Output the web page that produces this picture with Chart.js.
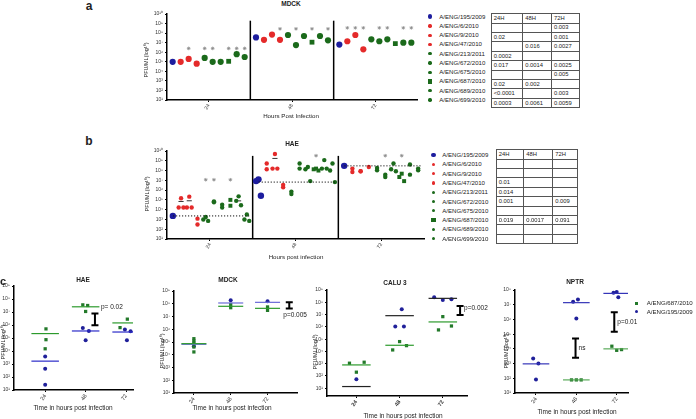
<!DOCTYPE html>
<html>
<head>
<meta charset="utf-8">
<script src="https://cdn.jsdelivr.net/npm/chart.js@4.4.1/dist/chart.umd.min.js"></script>
<style>
  body { margin: 0; width: 696px; height: 419px; position: relative; overflow: hidden; background: #fff;
         font-family: "Liberation Sans", Arial, sans-serif; color: #222; }
  canvas { position: absolute; }
  .lbl { position: absolute; white-space: nowrap; line-height: 1; }
  .dot { position: absolute; }
  table.p { position: absolute; border-collapse: collapse; table-layout: fixed; font-size: 5.8px; color: #222; }
  table.p td { border: 1px solid #555; padding: 0 0 0 2px; line-height: 7px; overflow: hidden; white-space: nowrap; }
  table.p tr:first-child td { text-align: center; padding: 0; }
</style>
</head>
<body>
<script>
const hours = ['24', '48', '72'];
const strains = ['A/ENG/195/2009', 'A/ENG/6/2010', 'A/ENG/9/2010', 'A/ENG/47/2010', 'A/ENG/213/2011',
  'A/ENG/672/2010', 'A/ENG/675/2010', 'A/ENG/687/2010', 'A/ENG/689/2010', 'A/ENG/699/2010'];

// panel a, MDCK: log10 PFU/ml per strain
const mdck24 = [5.0, 5.0, 5.3, 4.8, 5.4, 5.0, 5.0, 5.05, 5.8, 5.5];
const mdck48 = [7.55, 7.3, 7.85, 7.3, 7.8, 6.75, 7.7, 7.05, 7.7, 7.25];
const mdck72 = [6.8, 7.15, 7.8, 6.3, 7.35, 7.15, 7.35, 6.9, 7.0, 7.0];
const mdckStars = [[2, 4, 5, 7, 8, 9], [3, 5, 7, 9], [1, 2, 3, 5, 6, 8, 9]];
const mdckStarLevel = [6.4, 8.45, 8.55];
const mdckP24 = ['', '0.02', '', '0.0002', '0.017', '', '0.02', '<0.0001', '0.0003'];
const mdckP48 = ['', '', '0.016', '', '0.0014', '', '0.002', '', '0.0061'];
const mdckP72 = ['0.003', '0.001', '0.0027', '', '0.0025', '0.005', '', '0.003', '0.0059'];

// panel b, HAE: replicate values per strain
const hae24 = [[3.36], [5.16, 4.22, 4.22], [5.33, 4.22, 4.22], [3.08, 2.49], [3.25, 3.0, 2.85],
  [4.85, 4.75], [4.5, 4.22], [5.0, 4.4], [5.36, 4.9, 4.45], [3.5, 3.0, 2.85]];
const hae48 = [[7.1, 6.92, 5.43], [8.72, 8.13], [9.69, 8.2, 8.2], [6.54, 6.3], [5.85, 5.6],
  [8.72, 8.2], [8.37, 8.13, 6.92], [8.2, 8.13, 8.0], [9.07, 8.2, 8.2], [8.72, 8.0, 6.82]];
const hae72 = [[8.48], [8.2, 7.85], [7.93, 7.93], [8.37], [8.27, 8.03],
  [7.58, 7.34], [8.72, 8.13, 7.93], [7.68, 7.34, 6.92], [8.62, 7.58], [8.2, 8.03]];
const haeBar24 = [null, 4.84, 4.91, null, null, null, null, null, 4.9, null];
const haeBar48 = [null, null, 9.24, null, null, null, null, null, null, null];
const haeBar72 = [null, null, null, null, null, null, null, null, null, null];
const haeBlueMean = [3.36, 6.82, 8.48];
const haeStars = [[4, 5, 7], [7], [5, 7]];
const haeStarLevel = [7.06, 9.52, 9.52];
const haeP24 = ['', '', '0.01', '0.014', '0.001', '', '0.019', '', ''];
const haeP48 = ['', '', '', '', '', '', '0.0017', '', ''];
const haeP72 = ['', '', '', '', '0.009', '', '0.091', '', ''];

// panel c: A/ENG/687/2010 (green) vs A/ENG/195/2009 (blue)
const cHaeGreen = [[5.7, 4.87, 4.17], [7.55, 7.5, 7.04], [6.45, 5.8, 5.72]];
const cHaeBlue = [[3.58, 2.63, 1.41], [5.77, 5.54, 4.82], [5.65, 5.52, 4.82]];
const cHaeGreenMean = [5.34, 7.4, 6.16];
const cHaeBlueMean = [3.22, 5.54, 5.46];

const cMdckGreen = [[5.26, 5.08, 4.92, 4.61, 4.22], [7.95, 7.69], [7.75, 7.48]];
const cMdckBlue = [[4.66], [8.27], [8.2]];
const cMdckGreenMean = [4.87, 7.8, 7.64];
const cMdckBlueMean = [4.82, 8.06, 8.11];

const cCaluGreen = [[3.04, 3.12, 2.31], [4.8, 4.47, 4.12], [6.83, 6.07, 5.75]];
const cCaluBlue = [[1.74], [7.43, 6.02, 6.02], [8.4, 8.19, 8.24]];
const cCaluGreenMean = [2.9, 4.5, 6.4];
const cCaluBlueMean = [1.14, 6.91, 8.32];

const cNptrGreen = [[], [1.89, 1.89, 1.89], [4.18, 3.9, 3.95]];
const cNptrBlue = [[3.34, 3.0, 1.91], [7.2, 7.36, 6.07], [7.82, 7.86, 7.5]];
const cNptrGreenMean = [null, 1.89, 4.0];
const cNptrBlueMean = [2.98, 7.14, 7.77];

const brHae = [{ x: 1.23, lo: 5.98, hi: 6.88, text: 'p= 0.02' }];
const brMdck = [{ x: 2.59, lo: 7.62, hi: 8.11, text: 'p=0.005' }];
const brCalu = [{ x: 2.4, lo: 6.97, hi: 7.7, text: 'p=0.002' }];
const brNptr = [{ x: 0.98, lo: 3.39, hi: 4.71, text: 'ns' }, { x: 1.94, lo: 5.16, hi: 6.48, text: 'p=0.01' }];

// ---- styles ----
const BLUE = '#1d1d9e', RED = '#e42a2a', GREEN = '#1b6a1b';
const CGREEN = '#23792a', CBLUE = '#20209a';
const strainColor = [BLUE, RED, RED, RED, GREEN, GREEN, GREEN, GREEN, GREEN, GREEN];
const FONT = '"Liberation Sans", Arial, sans-serif';
const sup = n => String(n).split('').map(d => '⁰¹²³⁴⁵⁶⁷⁸⁹'[+d]).join('');
const pt = (x, v) => ({ x, y: Math.pow(10, v) });

function seg(x0, x1, v, color, w, dash) {
  return { type: 'line', data: [pt(x0, v), pt(x1, v)], borderColor: color, borderWidth: w,
    borderDash: dash || [], pointRadius: 0, showLine: true, fill: false };
}
function vline(x, v0, v1) {
  return { type: 'line', data: [pt(x, v0), pt(x, v1)], borderColor: '#000', borderWidth: 1.5,
    pointRadius: 0, showLine: true, fill: false };
}

const bracketPlugin = {
  id: 'brackets',
  afterDatasetsDraw(chart, args, opts) {
    const { ctx, scales: { x, y } } = chart;
    (opts.items || []).forEach(b => {
      const px = x.getPixelForValue(b.x);
      const p1 = y.getPixelForValue(Math.pow(10, b.lo)), p2 = y.getPixelForValue(Math.pow(10, b.hi));
      ctx.save();
      ctx.strokeStyle = '#000'; ctx.lineWidth = 2;
      ctx.beginPath();
      ctx.moveTo(px, p1); ctx.lineTo(px, p2);
      ctx.moveTo(px - 3.5, p1); ctx.lineTo(px + 3.5, p1);
      ctx.moveTo(px - 3.5, p2); ctx.lineTo(px + 3.5, p2);
      ctx.stroke();
      ctx.font = (opts.size || 6.5) + 'px ' + FONT;
      ctx.fillStyle = '#222'; ctx.textBaseline = 'middle';
      const dx = opts.dx !== undefined ? opts.dx : 5, dy = opts.dy || 0;
      ctx.fillText(b.text, px + dx, (p1 + p2) / 2 + dy);
      ctx.restore();
    });
  }
};

function panel(box, yLo, yHi, xMin, xMax, datasets, o) {
  const yw = 30, xh = 24, ptop = 6, pr = o.pr || 6;
  const L = Math.round(box.L), R = Math.round(box.R), T = Math.round(box.T), B = Math.round(box.B);
  const cv = document.createElement('canvas');
  cv.width = R - L + yw + pr; cv.height = B - T + ptop + xh;
  cv.style.left = (L - yw) + 'px'; cv.style.top = (T - ptop) + 'px';
  document.body.appendChild(cv);
  const pows = [];
  for (let p = yLo; p <= yHi; p++) pows.push(p);
  const grid = { drawOnChartArea: false, color: '#000', tickLength: 2, lineWidth: 1 };
  const border = { color: '#000', width: 1.5 };
  const yMin = o.yMin !== undefined ? o.yMin : yLo;
  return new Chart(cv, {
    type: 'scatter',
    data: { datasets },
    options: {
      responsive: false, animation: false, devicePixelRatio: 1,
      layout: { padding: { top: ptop, right: pr, left: 0, bottom: 0 } },
      plugins: { legend: { display: false }, tooltip: { enabled: false },
        brackets: { items: o.brackets || [], dx: o.bdx, dy: o.bdy } },
      scales: {
        x: { type: 'linear', min: xMin, max: xMax, grid, border,
          afterFit: s => { s.height = xh; },
          afterBuildTicks: s => { s.ticks = [0, 1, 2].map(v => ({ value: v })); },
          ticks: { callback: v => hours[v], color: '#333', autoSkip: false, padding: 1,
            minRotation: o.rot || 60, maxRotation: o.rot || 60,
            font: { family: FONT, size: o.xfs || 5, weight: o.xbold ? 'bold' : 'normal' } } },
        y: { type: 'logarithmic', min: Math.pow(10, yMin), max: Math.pow(10, yHi), grid, border,
          afterFit: s => { s.width = yw; },
          afterBuildTicks: s => { s.ticks = pows.map(p => ({ value: Math.pow(10, p) })); },
          ticks: { callback: v => '10' + sup(Math.round(Math.log10(v))), color: '#333', autoSkip: false,
            padding: 2, font: { family: FONT, size: o.yfs || 5 } } }
      }
    },
    plugins: [bracketPlugin]
  });
}

function text(str, x, y, size, o) {
  o = o || {};
  const d = document.createElement('div');
  d.className = 'lbl';
  d.textContent = str;
  let tf = o.left ? 'translate(0,-50%)' : 'translate(-50%,-50%)';
  if (o.rot) tf += ' rotate(-90deg)';
  d.style.left = x + 'px'; d.style.top = y + 'px'; d.style.fontSize = size + 'px';
  d.style.fontWeight = o.bold ? 'bold' : 'normal';
  d.style.transform = tf;
  if (o.color) d.style.color = o.color;
  document.body.appendChild(d);
}

function dot(x, y, sz, color, square) {
  const d = document.createElement('div');
  d.className = 'dot';
  d.style.cssText = `left:${x - sz / 2}px;top:${y - sz / 2}px;width:${sz}px;height:${sz}px;` +
    `background:${color};border-radius:${square ? 0 : 50}%`;
  document.body.appendChild(d);
}

function legend(dx, tx, y0, step) {
  strains.forEach((s, i) => {
    const y = y0 + i * step;
    dot(dx, y, i === 0 || i === 7 ? 4.5 : 3.3, strainColor[i], i === 7);
    text(s, tx, y, 6.1, { left: true });
  });
}

function pTable(x, y, colW, rowH, p24, p48, p72) {
  const tb = document.createElement('table');
  tb.className = 'p';
  tb.style.left = x + 'px'; tb.style.top = y + 'px';
  tb.style.width = colW.reduce((a, b) => a + b, 0) + 'px';
  const cg = document.createElement('colgroup');
  colW.forEach(w => { const c = document.createElement('col'); c.style.width = w + 'px'; cg.appendChild(c); });
  tb.appendChild(cg);
  const rows = [['24H', '48H', '72H']].concat(p24.map((v, i) => [v, p48[i], p72[i]]));
  rows.forEach(r => {
    const tr = document.createElement('tr');
    tr.style.height = rowH + 'px';
    r.forEach(v => { const td = document.createElement('td'); td.textContent = v; tr.appendChild(td); });
    tb.appendChild(tr);
  });
  document.body.appendChild(tb);
}

// ---- panel a ----
const SP = 0.096;
const mdck = [mdck24, mdck48, mdck72];
const aSets = strains.map((s, i) => ({
  data: mdck.map((vals, t) => pt(t + (i - 4.5) * SP, vals[i])),
  backgroundColor: strainColor[i], borderColor: strainColor[i],
  pointStyle: i === 7 ? 'rect' : 'circle', pointRadius: i === 7 ? 3.4 : 3.1, borderWidth: 0
}));
mdckStars.forEach((idx, t) => aSets.push({
  data: idx.map(i => pt(t + (i - 4.5) * SP, mdckStarLevel[t])),
  pointStyle: 'star', pointRadius: 1.8, borderColor: '#8a8a8a', borderWidth: 0.8
}));
aSets.push(vline(0.5, 1, 9.3), vline(1.5, 1, 9.3));
panel({ L: 167, R: 417, T: 14, B: 100 }, 1, 10, -0.5, 2.5, aSets, {});

// ---- panel b ----
const hae = [hae24, hae48, hae72];
const haeBar = [haeBar24, haeBar48, haeBar72];
const JIT = { 1: [0], 2: [0, 0], 3: [0, -0.028, 0.028] };
const bSets = [];
haeBlueMean.forEach((v, t) => bSets.push(seg(t - 0.43, t + 0.46, v, '#111', 1, [1.2, 1.8])));
strains.forEach((s, i) => {
  const data = [];
  hae.forEach((grp, t) => grp[i].forEach((v, j) =>
    data.push(pt(t + (i - 4.5) * SP + JIT[grp[i].length][j], v))));
  bSets.push({ data, backgroundColor: strainColor[i], borderColor: strainColor[i], borderWidth: 0,
    pointStyle: i === 7 ? 'rect' : 'circle', pointRadius: i === 0 ? 3.2 : i === 7 ? 2.8 : 2.2 });
});
haeBar.forEach((bars, t) => bars.forEach((v, i) => {
  if (v !== null) bSets.push(seg(t + (i - 4.5) * SP - 0.03, t + (i - 4.5) * SP + 0.03, v, '#333', 1));
}));
haeStars.forEach((idx, t) => bSets.push({
  data: idx.map(i => pt(t + (i - 4.5) * SP, haeStarLevel[t])),
  pointStyle: 'star', pointRadius: 1.8, borderColor: '#8a8a8a', borderWidth: 0.8
}));
bSets.push(vline(0.5, 1, 9.5), vline(1.5, 1, 9.5));
panel({ L: 167, R: 424, T: 151, B: 239 }, 1, 10, -0.5, 2.5, bSets, {});

// ---- panel c ----
function cSets(green, blue, gMean, bMean, gJit, bJit, gLine, bLine, half) {
  const sets = [];
  gMean.forEach((v, t) => { if (v !== null) sets.push(seg(t - half, t + half, v, gLine, 1.2)); });
  bMean.forEach((v, t) => { if (v !== null) sets.push(seg(t - half, t + half, v, bLine, 1.2)); });
  const gd = [], bd = [];
  green.forEach((g, t) => g.forEach((v, j) => gd.push(pt(t + ((gJit[t] || [])[j] || 0), v))));
  blue.forEach((g, t) => g.forEach((v, j) => bd.push(pt(t + ((bJit[t] || [])[j] || 0), v))));
  sets.push({ data: gd, backgroundColor: CGREEN, borderWidth: 0, pointStyle: 'rect', pointRadius: 2.3 });
  sets.push({ data: bd, backgroundColor: CBLUE, borderWidth: 0, pointStyle: 'circle', pointRadius: 2 });
  return sets;
}
const cOpt = { rot: 55, xfs: 5.5, yfs: 5 };

panel({ L: 14, R: 133, T: 286, B: 390 }, 1, 9, -0.77, 2.17,
  cSets(cHaeGreen, cHaeBlue, cHaeGreenMean, cHaeBlueMean,
    [[0.02, 0.02, 0], [-0.07, 0.05, 0], [0.03, -0.15, 0.22]],
    [[0, 0, 0], [-0.07, 0.08, 0], [-0.03, 0.11, 0.02]], '#2c9a2c', '#2a2ac8', 0.34),
  Object.assign({ brackets: brHae, bdx: 6, bdy: -12 }, cOpt));

panel({ L: 174, R: 297, T: 291, B: 393 }, 1, 9, -0.54, 2.8,
  cSets(cMdckGreen, cMdckBlue, cMdckGreenMean, cMdckBlueMean,
    [[0, 0, 0, 0, 0], [0, 0], [0, 0]], [[0], [0], [0]], '#2c9a2c', '#6a6ad8', 0.34),
  Object.assign({ brackets: brMdck, bdx: -6, bdy: 10, pr: 14 }, cOpt));

panel({ L: 327, R: 467, T: 290, B: 396 }, 1, 9, -0.68, 2.56,
  cSets(cCaluGreen, cCaluBlue, cCaluGreenMean, cCaluBlueMean,
    [[-0.16, 0.18, 0], [0, 0.16, -0.16], [0, 0.2, -0.1]], [[0], [0.05, -0.1, 0.1], [-0.2, 0, 0.2]],
    '#2c9a2c', '#222', 0.33),
  Object.assign({ brackets: brCalu, bdx: 4, bdy: -2, pr: 26, xbold: true, yMin: 0.37 }, cOpt));

panel({ L: 515, R: 628, T: 290, B: 393 }, 1, 8, -0.52, 2.28,
  cSets(cNptrGreen, cNptrBlue, cNptrGreenMean, cNptrBlueMean,
    [[], [-0.12, 0, 0.12], [-0.12, 0, 0.12]], [[-0.07, 0.06, 0], [-0.08, 0.04, 0], [-0.08, 0, 0.04]],
    '#5aaa5a', '#3434b8', 0.33),
  Object.assign({ brackets: brNptr, bdx: 3, bdy: 0, pr: 18 }, cOpt));

// ---- text, legends, tables ----
text('a', 89, 6, 12, { bold: true });
text('b', 89, 141, 12, { bold: true });
text('c', 3, 281, 11, { bold: true });
text('MDCK', 291, 4, 6.5, { bold: true });
text('HAE', 292, 144, 6.5, { bold: true });
text('HAE', 83, 280, 6.5, { bold: true });
text('MDCK', 228, 280, 6.5, { bold: true });
text('CALU 3', 395, 282.5, 6.5, { bold: true });
text('NPTR', 575, 282, 6.5, { bold: true });
text('PFU/ML(log¹⁰)', 147, 60, 5.5, { rot: true });
text('PFU/ML(log¹⁰)', 148, 194, 5.5, { rot: true });
text('PFU/ML(log¹⁰)', 4, 342, 5.5, { rot: true });
text('PFU/ML(log¹⁰)', 163, 351, 5.5, { rot: true });
text('PFU/ML(log¹⁰)', 316, 352, 5.5, { rot: true });
text('PFU/ML(log¹⁰)', 507, 351, 5.5, { rot: true });
text('Hours Post Infection', 291, 116, 6.2);
text('Hours post infection', 296, 257, 6.2);
text('Time in hours post infection', 73, 408, 6.5);
text('Time in hours post infection', 232, 408, 6.5);
text('Time in hours post infection', 403, 416, 6.5);
text('Time in hours post infection', 577, 411.5, 6.5);

legend(430, 439.3, 16.7, 9.25);
legend(433.3, 442.3, 155, 9.3);
pTable(490.7, 13.3, [31.6, 28.7, 28.3], 9.4, mdckP24, mdckP48, mdckP72);
pTable(495.7, 149.3, [27.6, 29, 24.4], 9.4, haeP24, haeP48, haeP72);

dot(636.7, 303.3, 3.6, CGREEN, true);
text('A/ENG/687/2010', 646.7, 303.3, 6.1, { left: true });
dot(636.7, 311.7, 3.6, CBLUE, false);
text('A/ENG/195/2009', 646.7, 311.7, 6.1, { left: true });
</script>
</body>
</html>
